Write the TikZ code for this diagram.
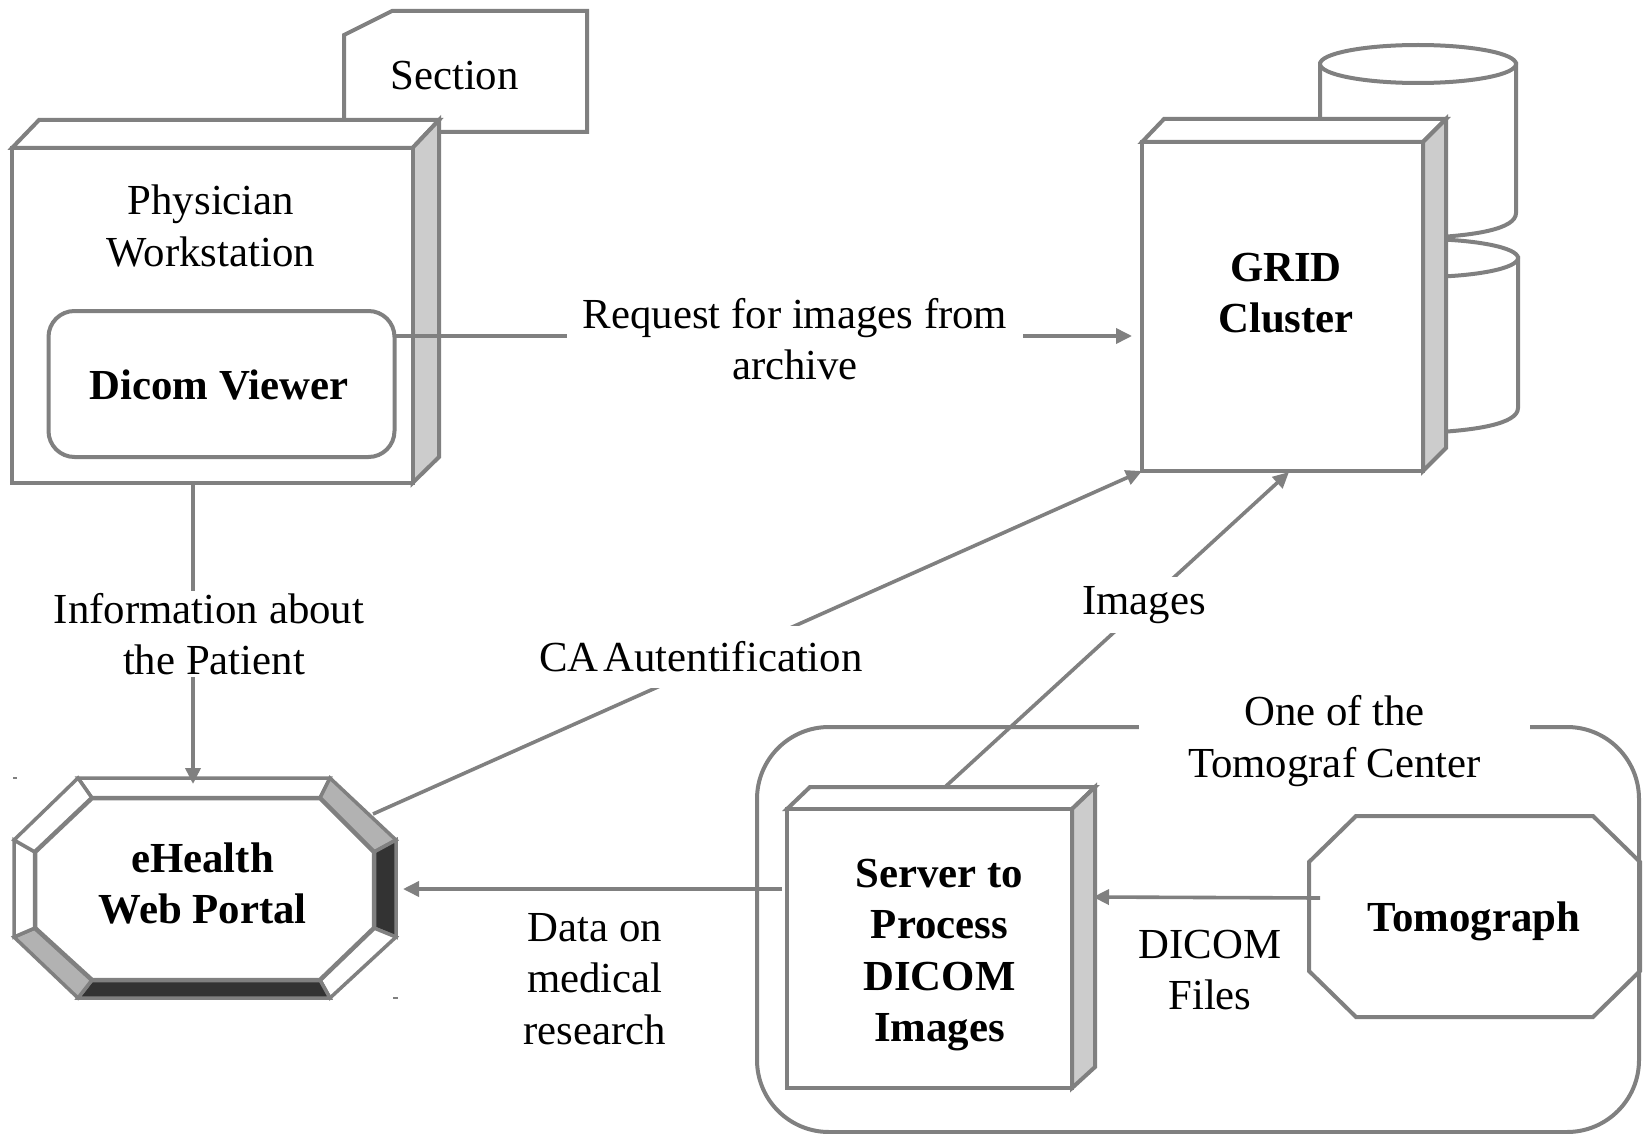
\documentclass[tikz,border=0pt]{standalone}
\usepackage{fontspec}
\setmainfont{Liberation Serif}
\usetikzlibrary{arrows.meta,calc}
\definecolor{ln}{HTML}{808080}
\definecolor{sidegray}{HTML}{CCCCCC}
\definecolor{midgray}{HTML}{B2B2B2}
\definecolor{darkgray}{HTML}{333333}
\tikzset{
  x=1pt,y=-1pt,
  shape line/.style={draw=ln,line width=4pt,line join=miter},
  face/.style={shape line,fill=white},
  sideface/.style={shape line,fill=sidegray},
  conn/.style={draw=ln,line width=3.6pt},
  arrowconn/.style={conn,-{Triangle[length=16pt,width=15pt]}},
  txt/.style={font=\fontsize{42.8}{51.5}\selectfont,align=center,text=black,inner sep=0pt},
  boldtxt/.style={txt,font=\fontsize{42.8}{51.5}\selectfont\bfseries},
  lbl/.style={txt,fill=white},
}
\newcommand{\cubeshape}[9]{%
  % #1 left #2 top #3 right #4 bottom #5 back left #6 back top #7 back right #8 side bottom
  \path[face] (#1,#2) -- (#5,#6) -- (#7,#6) -- (#3,#2) -- cycle;
  \path[sideface] (#3,#2) -- (#7,#6) -- (#7,#8) -- (#3,#4) -- cycle;
  \path[face] (#1,#2) rectangle (#3,#4);
  \node[txt] (#9) at ({(#1+#3)/2},{(#2+#4)/2}) {};
}
\begin{document}
\begin{tikzpicture}
\useasboundingbox[fill=white] (0,0) rectangle (1646,1134);

% Section note
\path[face] (344,35) -- (392,11) -- (587,11) -- (587,132) -- (344,132) -- cycle;
\node[txt] (section) at (454.5,76) {Section};

% Physician workstation
\cubeshape{12}{148}{412.5}{483}{39}{120}{439}{457}{pwbox}
\node[txt] (pwtext) at (211,226) {Physician\\Workstation};
\node[face,rounded corners=26pt,minimum width=346pt,minimum height=146pt,inner sep=0pt] (viewer) at (221.5,384) {};
\node[boldtxt] (viewertext) at (219,385) {Dicom Viewer};

% Disks behind the GRID cluster
\path[face] (1322,258) -- (1322,433) -- (1420,433) .. controls (1475,431) and (1518,424) .. (1518,408) -- (1518,258) -- cycle;
\path[face] (1322,258) arc[start angle=180,end angle=540,x radius=98,y radius=19];
\path[face] (1320,64) -- (1320,238) -- (1420,238) .. controls (1475,236) and (1516,229) .. (1516,213) -- (1516,64) -- cycle;
\path[face] (1320,64) arc[start angle=180,end angle=540,x radius=98,y radius=19];

% GRID cluster
\cubeshape{1142}{142}{1423}{471}{1164}{119}{1446}{448}{gridbox}
\node[boldtxt] (gridtext) at (1286,293) {GRID\\Cluster};

% Tomograph centre
\path[shape line,rounded corners=72pt] (757,727) rectangle (1639,1132);
\cubeshape{787}{809}{1072}{1088}{810}{787}{1095}{1067}{serverbox}
\node[boldtxt] (servertext) at (939.5,955) {Server to\\Process\\DICOM\\Images};
\path[shape line] (1309,862) -- (1356,816) -- (1593,816) -- (1640,862) -- (1640,971) -- (1593,1017) -- (1356,1017) -- (1309,971) -- cycle;
\node[boldtxt] (tomotext) at (1474,921) {Tomograph};

% eHealth portal
\coordinate (o1) at (78,778); \coordinate (o2) at (330,778);
\coordinate (o3) at (396,840); \coordinate (o4) at (396,937);
\coordinate (o5) at (330,998); \coordinate (o6) at (78,998);
\coordinate (o7) at (14,937); \coordinate (o8) at (14,840);
\coordinate (i1) at (92,798); \coordinate (i2) at (320,798);
\coordinate (i3) at (374,852); \coordinate (i4) at (374,928);
\coordinate (i5) at (320,980); \coordinate (i6) at (92,980);
\coordinate (i7) at (35,928); \coordinate (i8) at (35,852);
\path[face,line width=3.5pt] (o1) -- (o2) -- (i2) -- (i1) -- cycle;
\path[shape line,line width=3.5pt,fill=midgray] (o2) -- (o3) -- (i3) -- (i2) -- cycle;
\path[shape line,line width=3.5pt,fill=darkgray] (o3) -- (o4) -- (i4) -- (i3) -- cycle;
\path[face,line width=3.5pt] (o4) -- (o5) -- (i5) -- (i4) -- cycle;
\path[shape line,line width=3.5pt,fill=darkgray] (o5) -- (o6) -- (i6) -- (i5) -- cycle;
\path[shape line,line width=3.5pt,fill=midgray] (o6) -- (o7) -- (i7) -- (i6) -- cycle;
\path[face,line width=3.5pt] (o7) -- (o8) -- (i8) -- (i7) -- cycle;
\path[face,line width=3.5pt] (o8) -- (o1) -- (i1) -- (i8) -- cycle;
\path[face,line width=4.5pt] (i1) -- (i2) -- (i3) -- (i4) -- (i5) -- (i6) -- (i7) -- (i8) -- cycle;
\node[boldtxt] (ehtext) at (202.6,883.5) {eHealth\\Web Portal};
\fill[ln] (13,777) rectangle (17,779);
\fill[ln] (393,997) rectangle (398,999);

% Connector end points on the shapes
\coordinate (pwS) at (193,483);
\coordinate (ehN) at (193,784);
\coordinate (viewerE) at (395,336);
\coordinate (gridW) at (1132,336);
\coordinate (ehNE) at (373,814);
\coordinate (gridSW) at (1142,471);
\coordinate (srvN) at (945,787);
\coordinate (gridS) at (1289,472);
\coordinate (srvW) at (782,889);
\coordinate (ehE) at (403,889);
\coordinate (tomoW) at (1320,898);
\coordinate (srvE) at (1093,897);

% Connectors
\draw[arrowconn] (pwS) -- (ehN);
\draw[arrowconn] (viewerE) -- (gridW);
\draw[arrowconn] (ehNE) -- (gridSW);
\draw[arrowconn] (srvN) -- (gridS);
\draw[arrowconn] (srvW) -- (ehE);
\draw[arrowconn] (tomoW) -- (srvE);

% Labels
\node[lbl,inner xsep=6pt,inner ysep=2pt] (lblinfo) at (209,634) {Information about\\\hspace*{10pt}the Patient};
\node[lbl,minimum width=456pt,minimum height=100pt] (lblreq) at (795,339) {Request for images from\\archive};
\node[lbl,minimum height=62pt,inner xsep=4pt] (lblca) at (701,657) {CA\hspace{-6pt} Autentification};
\node[lbl,minimum height=56pt,inner xsep=8pt] (lblimg) at (1144,605) {\raisebox{-7pt}{Images}};
\node[lbl,minimum width=391pt,minimum height=100pt,anchor=north] (lblcenter) at (1334.5,691) {\raisebox{-3pt}{One of the}\\\raisebox{-3pt}{Tomograf Center}};
\node[txt] (lbldicom) at (1210,970) {DICOM\\Files};
\node[txt] (lbldata) at (595,979) {Data on\\medical\\research};
\end{tikzpicture}
\end{document}
